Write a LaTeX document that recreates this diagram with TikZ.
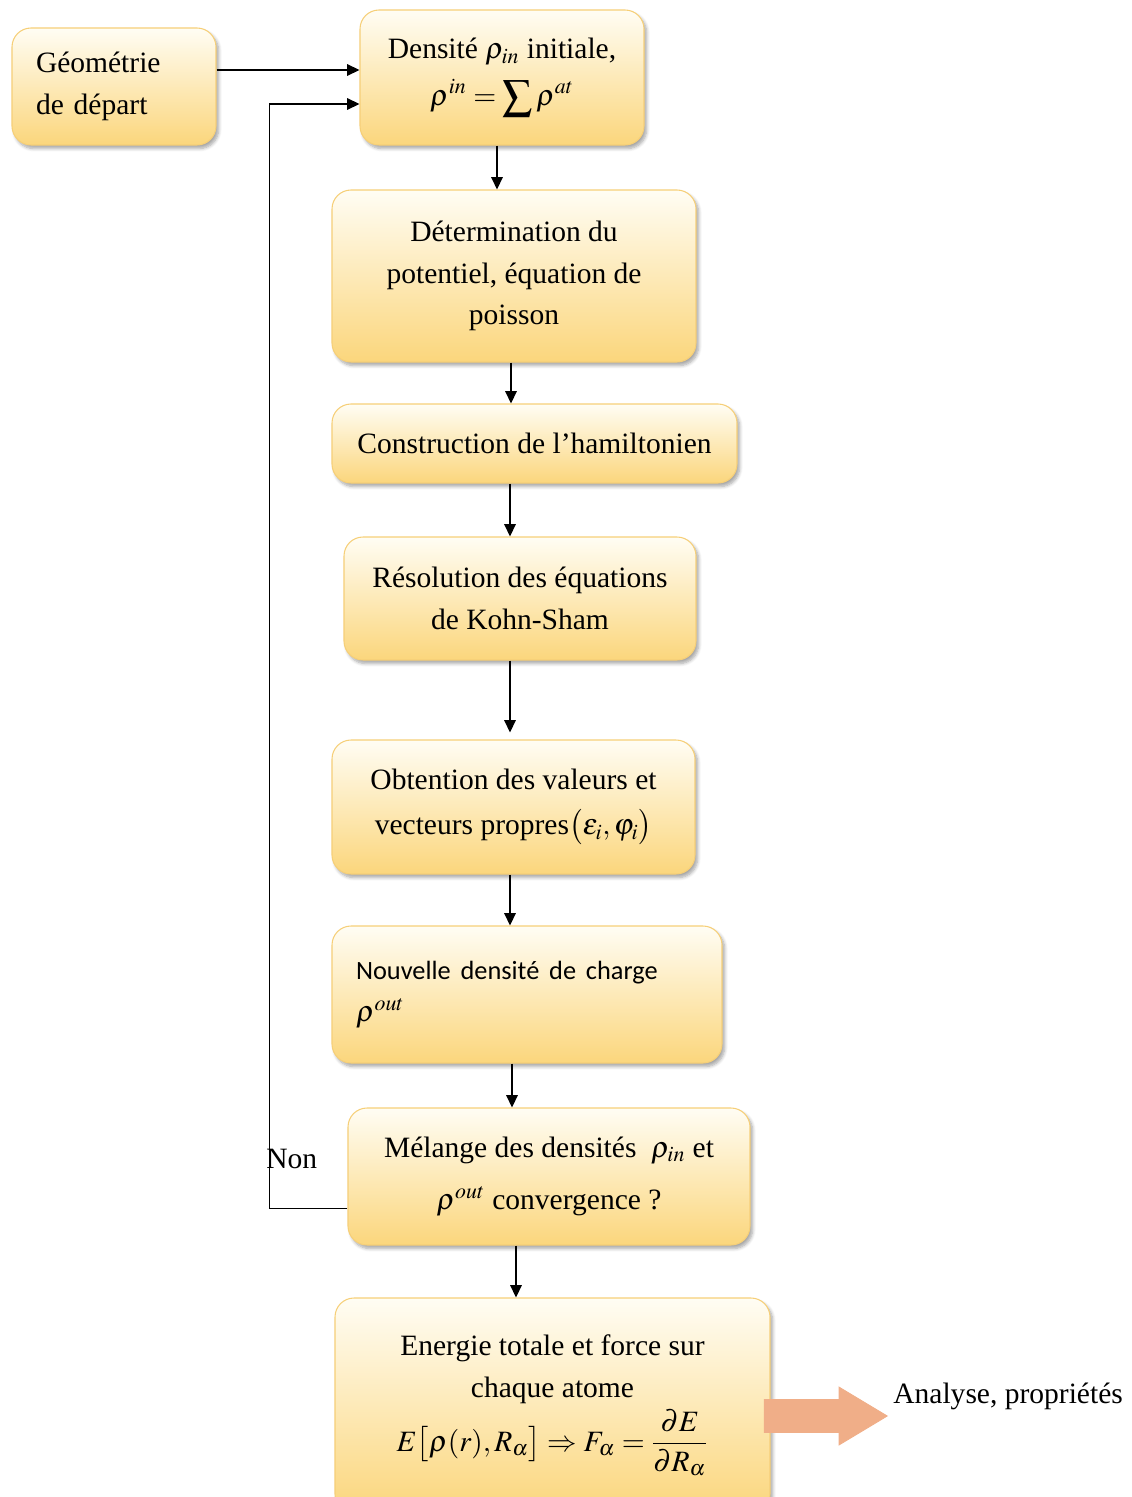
\documentclass[tikz,border=0pt]{standalone}
\usepackage{mathptmx}
\usepackage{fontspec}
\setmainfont{Liberation Serif}
\newfontfamily\calibri{Carlito}
\usetikzlibrary{arrows.meta,shapes.arrows,shadows.blur,calc}
\definecolor{boxtop}{HTML}{FFFDF4}
\definecolor{boxmid}{HTML}{FEEFC2}
\definecolor{boxbot}{HTML}{FBD67C}
\definecolor{boxline}{HTML}{F6CF78}
\definecolor{peachedge}{HTML}{F0AE88}
\definecolor{peachmid}{HTML}{FDEDE3}
\begin{document}
\begin{tikzpicture}[x=0.02cm,y=-0.02cm,
  box/.style={draw=boxline, line width=0.6pt, rounded corners=0.38cm,
    top color=boxtop, middle color=boxmid, bottom color=boxbot,
    align=center, inner sep=0pt,
    font=\fontsize{16.8}{23.8}\selectfont,
    blur shadow={shadow xshift=1.5pt, shadow yshift=-2pt, shadow blur steps=6, shadow opacity=35}},
  arr/.style={line width=1pt, -{Triangle[length=7pt,width=6.5pt]}},
  label/.style={font=\fontsize{16.8}{23.8}\selectfont, inner sep=0pt},
  fat/.style={single arrow, draw=peachedge, line width=0.5pt,
    top color=peachedge, middle color=peachmid, bottom color=peachedge,
    inner xsep=0pt, inner ysep={16*0.02cm}, single arrow head indent=0pt}]
\useasboundingbox (0,0) rectangle (1132,1497);

% process boxes
\node[box, minimum width={204*0.02cm}, minimum height={117*0.02cm},
      align=left, text width={156*0.02cm}] (geo) at (114,86.5)
  {Géométrie\\de départ};
\node[box, minimum width={284*0.02cm}, minimum height={135*0.02cm}] (dens) at (502,77.5)
  {Densité $\rho_{in}$ initiale,\\[3pt]
   $\displaystyle\rho^{in}=\sum\rho^{at}$};
\node[box, minimum width={364*0.02cm}, minimum height={172*0.02cm}] (det) at (514,276)
  {Détermination du\\potentiel, équation de\\poisson};
\node[box, minimum width={405*0.02cm}, minimum height={79*0.02cm}] (cons) at (534.5,443.5)
  {Construction de l’hamiltonien};
\node[box, minimum width={352*0.02cm}, minimum height={123*0.02cm}] (reso) at (520,598.5)
  {Résolution des équations\\de Kohn-Sham};
\node[box, minimum width={363*0.02cm}, minimum height={134*0.02cm}] (obt) at (513.5,807)
  {Obtention des valeurs et\\[2pt]
   vecteurs propres$\bigl(\varepsilon_i,\varphi_i\bigr)$};
\node[box, minimum width={390*0.02cm}, minimum height={137*0.02cm},
      align=left, text width={342*0.02cm}] (nouv) at (527,994.5)
  {{\calibri\fontsize{15}{26}\selectfont Nouvelle densité de charge}\\
   $\rho^{out}$\\[6pt]};
\node[box, minimum width={402*0.02cm}, minimum height={137*0.02cm}] (mel) at (549,1176.5)
  {Mélange des densités~ $\rho_{in}$ et\\[6pt]
   $\rho^{out}$ convergence ?};
\node[box, minimum width={435*0.02cm}, minimum height={215*0.02cm}] (ener) at (552.5,1405.5)
  {Energie totale et force sur\\chaque atome\\[2pt]
   $\displaystyle E\bigl[\rho(r),R_\alpha\bigr]\Rightarrow F_\alpha=\frac{\partial E}{\partial R_\alpha}$};

% output
\node[fat, minimum height={123*0.02cm}, minimum width={57*0.02cm},
      single arrow head extend={12.5*0.02cm}, single arrow tip angle=62] (out) at (812,1416) {};
\node[label, anchor=west] (ana) at (893,1396) {Analyse, propriétés};
\node[label, anchor=west] (non) at (266,1159) {Non};

% connectors
\coordinate (g1) at ($(geo.east)+(0,-16.5)$);
\draw[arr] (g1) -- (g1 -| dens.west);

\coordinate (l1) at ($(mel.west)+(0,32)$);
\coordinate (l2) at ($(dens.west)+(0,26.5)$);
\draw[arr] (l1) -- ++(-78,0) |- (l2);

\coordinate (a1) at ($(dens.south)+(-5,0)$);
\draw[arr] (a1) -- (a1 |- det.north);
\coordinate (a2) at ($(det.south)+(-3,0)$);
\draw[arr] (a2) -- (a2 |- cons.north);
\coordinate (a3) at ($(cons.south)+(-24.5,0)$);
\draw[arr] (a3) -- (a3 |- reso.north);
\coordinate (a4) at ($(reso.south)+(-10,0)$);
\draw[arr] (a4) -- ($(a4 |- obt.north)+(0,-7)$);
\coordinate (a5) at ($(obt.south)+(-3.5,0)$);
\draw[arr] (a5) -- (a5 |- nouv.north);
\coordinate (a6) at ($(nouv.south)+(-15,0)$);
\draw[arr] (a6) -- (a6 |- mel.north);
\coordinate (a7) at ($(mel.south)+(-33,0)$);
\draw[arr] (a7) -- (a7 |- ener.north);
\end{tikzpicture}
\end{document}
